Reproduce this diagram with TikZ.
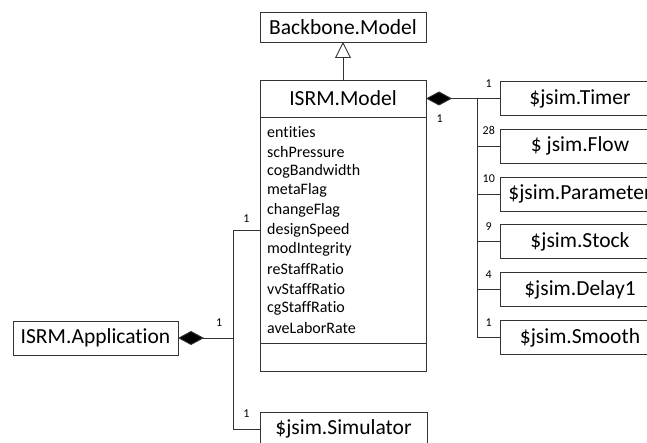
\documentclass[tikz,border=0pt]{standalone}
\usepackage{fontspec}
\setmainfont{Carlito}[Ligatures={NoCommon}]
\usetikzlibrary{arrows.meta, positioning}

\begin{document}
\begin{tikzpicture}[
  x=1pt, y=-1pt,
  cls/.style={draw=black!80, line width=0.9pt, fill=white, inner sep=0pt, outer sep=0pt, font=\fontsize{21.5}{25}\selectfont},
  attr/.style={anchor=west, inner sep=0pt, font=\fontsize{16}{19}\selectfont},
  mult/.style={inner sep=1pt, font=\fontsize{12}{14}\selectfont},
  link/.style={draw=black!80, line width=0.9pt},
  comp/.style={link, arrows={Diamond[length=26pt, width=14pt, fill=black]-}},
  inh/.style={link, arrows={-Triangle[open, length=16pt, width=16pt, fill=white]}}
]
  \useasboundingbox (0,0) rectangle (647,443);
  \def\dy{47.8}

  % Parent class
  \node[cls, minimum width=166pt, minimum height=30pt] (backbone) at (343,27) {Backbone.Model};

  % ISRM.Model (name, attributes, operations)
  \node[cls, minimum width=166pt, minimum height=37pt] (mhead) at (343,98.5) {ISRM.Model};
  \node[cls, minimum width=166pt, minimum height=226pt, anchor=north] (mattr) at (mhead.south) {};
  \node[cls, minimum width=166pt, minimum height=28pt, anchor=north] (mops) at (mattr.south) {};
  \foreach \a [count=\i from 0] in {entities, schPressure, cogBandwidth, metaFlag, changeFlag,
      designSpeed, modIntegrity, reStaffRatio, vvStaffRatio, cgStaffRatio, aveLaborRate} {
    \node[attr] (a\i) at (267, 132+19.6*\i) {\a};
  }

  \draw[inh] (mhead.north) -- (backbone.south);

  % Parts of the model
  \foreach \n/\t [count=\i from 0] in {timer/\$jsim.Timer, flow/\$ jsim.Flow, param/\$jsim.Parameter,
      stock/\$jsim.Stock, delay/\$jsim.Delay1, smooth/\$jsim.Smooth} {
    \node[cls, minimum width=159pt, minimum height=34pt] (\n) at (580, 98.5+\dy*\i) {\t};
  }

  \coordinate (rtrunk) at (477,98.5);
  \draw[comp] (mhead.east) -- node[mult, pos=0.27, below=15pt] (mdia) {1} (rtrunk)
    -- node[mult, above=10pt] (mtimer) {1} (timer.west);
  \draw[link] (rtrunk) -- (rtrunk |- smooth.west);
  \foreach \n/\m in {flow/28, param/10, stock/9, delay/4, smooth/1} {
    \draw[link] (rtrunk |- \n.west) -- node[mult, above=10pt] (m\n) {\m} (\n.west);
  }

  % Application and simulator
  \node[cls, minimum width=165pt, minimum height=34pt] (app) at (95.5,338) {ISRM.Application};
  \node[cls, minimum width=167pt, minimum height=34pt] (sim) at (343.5,429) {\$jsim.Simulator};

  \coordinate (ltrunk) at (233,230);
  \draw[comp] (app.east) -- node[mult, pos=0.75, above=10pt] (mapp) {1} (ltrunk |- app.east);
  \draw[link] (ltrunk) -- node[mult, above=6pt] (mmodel) {1} (ltrunk -| mattr.west);
  \draw[link] (ltrunk) |- node[mult, pos=0.75, above=10pt] (msim) {1} (sim.west);
\end{tikzpicture}
\end{document}
